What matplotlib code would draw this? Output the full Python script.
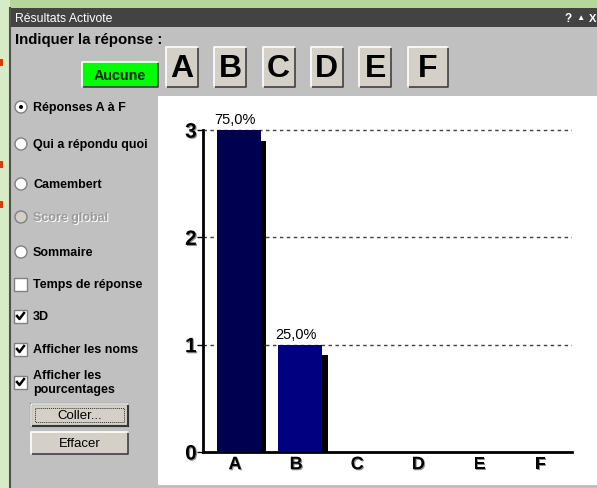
import numpy as np
import matplotlib.pyplot as plt
import matplotlib.patheffects as pe
from matplotlib.patches import Rectangle, Circle

# données du graphique
categories = ['A', 'B', 'C', 'D', 'E', 'F']
counts = [3, 1, 0, 0, 0, 0]
y_ticks = [0, 1, 2, 3]

# options du panneau de gauche
radio_labels = ['Réponses A à F', 'Qui a répondu quoi', 'Camembert', 'Score global', 'Sommaire']
check_labels = ['Temps de réponse', '3D', 'Afficher les noms', 'Afficher les\npourcentages']
check_state = [False, True, True, True]

W, H = 597, 489
GRAY = '#c0c0c0'
BTN = '#d4d0c8'
FONT = ['Liberation Sans', 'DejaVu Sans']
NARROW = ['Liberation Sans Narrow', 'Liberation Sans', 'DejaVu Sans']
bar_colors = ['#000050', '#000080', '#000080', '#000080', '#000080', '#000080']

fig = plt.figure(figsize=(W / 100, H / 100), dpi=100)

# calque "interface" en coordonnées pixels
ui = fig.add_axes([0, 0, 1, 1], zorder=0)
ui.set_xlim(0, W)
ui.set_ylim(H, 0)
ui.axis('off')


def button(x, y, w, h, face=BTN):
    ui.add_patch(Rectangle((x, y), w, h, facecolor=face, edgecolor='none'))
    ui.plot([x, x + w, x + w], [y + h, y + h, y], color='#404040', lw=1.2)
    ui.plot([x, x, x + w], [y + h, y, y], color='white', lw=1.2)


# bureau + fenêtre
ui.add_patch(Rectangle((0, 0), W, 9, facecolor='#b5d89a', edgecolor='none'))
ui.add_patch(Rectangle((0, 0), 10, H, facecolor='#d6ebc6', edgecolor='none'))
for ry in [60, 162, 202]:
    ui.add_patch(Rectangle((0, ry), 3, 7, facecolor='#d04010', edgecolor='none'))
ui.add_patch(Rectangle((10, 9), W - 10, H - 9, facecolor=GRAY, edgecolor='none'))
ui.plot([10, 10], [9, H], color='#505050', lw=1.5)
ui.add_patch(Rectangle((10, 9), W - 10, 19, facecolor='#434343', edgecolor='none'))
ui.text(15, 18.5, 'Résultats Activote', color='white', fontsize=8.8,
        va='center', family=FONT)
ui.text(564, 18.5, '?', color='white', fontsize=8.5, fontweight='bold',
        va='center', family=FONT)
ui.text(576, 18.5, '▲', color='white', fontsize=6, va='center', family=FONT)
ui.text(589, 18.5, 'X', color='white', fontsize=8, fontweight='bold',
        va='center', family=FONT)

ui.text(15, 40, 'Indiquer la réponse :', fontsize=10.8, fontweight='bold',
        va='center', family=FONT)

# bouton "Aucune"
button(82, 63, 76, 25, face='#00ff00')
ui.text(120, 76, 'Aucune', fontsize=10.3, fontweight='bold', ha='center',
        va='center', color='#102010', family=FONT)

# boutons lettres
for i, c in enumerate(categories):
    bx = 166 + 48.3 * i
    bw = 40 if i == len(categories) - 1 else 32
    button(bx, 48, bw, 40)
    ui.text(bx + bw / 2, 69, c, fontsize=23, fontweight='bold', ha='center',
            va='center', family=FONT)

# boutons radio
radio_y = [108, 145, 185, 218, 253]
for i, (lab, ry) in enumerate(zip(radio_labels, radio_y)):
    disabled = lab == 'Score global'
    ui.add_patch(Circle((21, ry), 6, facecolor=BTN if disabled else 'white',
                        edgecolor='#808080', lw=1))
    if i == 0:
        ui.add_patch(Circle((21, ry), 2, facecolor='black', edgecolor='none'))
    if disabled:
        ui.text(34, ry + 1, lab, fontsize=9, fontweight='bold', va='center',
                color='white', family=FONT)
    ui.text(33, ry, lab, fontsize=9, fontweight='bold', va='center',
            color='#9a9a9a' if disabled else 'black', family=FONT)

# cases à cocher
check_y = [285, 317, 350, 383]
for lab, cy, on in zip(check_labels, check_y, check_state):
    ui.add_patch(Rectangle((14, cy - 6.5), 13, 13, facecolor='white',
                           edgecolor='#808080', lw=1))
    if on:
        ui.plot([17, 19.5, 24], [cy, cy + 3, cy - 3], color='black', lw=1.8)
    ui.text(33, cy, lab, fontsize=9, fontweight='bold', va='center',
            linespacing=1.25, family=FONT)

# boutons Coller / Effacer
button(31, 405, 97, 22)
ui.add_patch(Rectangle((31, 405), 97, 22, facecolor='none', edgecolor='black', lw=1.5))
ui.add_patch(Rectangle((35, 409), 89, 14, facecolor='none', edgecolor='#303030',
                       lw=0.7, ls=(0, (1, 1))))
ui.text(79.5, 416, 'Coller...', fontsize=9.5, ha='center', va='center', family=FONT)
button(31, 433, 97, 22)
ui.text(79.5, 444, 'Effacer', fontsize=9.5, ha='center', va='center', family=FONT)

# zone blanche du graphique
ui.add_patch(Rectangle((158, 97), W - 158, 389, facecolor='white', edgecolor='none'))

# graphique
px_unit = 107.3
y_top = 3.15
ax = fig.add_axes([203 / W, 1 - 453 / H, (572 - 203) / W, y_top * px_unit / H],
                  zorder=1)
ax.set_facecolor('none')
x = np.arange(len(categories))
vals = np.array(counts, dtype=float)

ax.bar(x - 0.295, vals, width=0.72, align='edge', color=bar_colors, zorder=3)
ax.bar(x + 0.425, np.maximum(vals - 0.1, 0), width=0.09, align='edge',
       color='black', zorder=2)

total = vals.sum()
for xi, v in zip(x, vals):
    if v > 0:
        txt = f'{100 * v / total:.1f}%'.replace('.', ',')
        ax.text(xi, v + 0.035, txt, ha='center', va='bottom', fontsize=10.5,
                family=NARROW)

ax.set_xlim(-0.524, 5.516)
ax.set_ylim(0, y_top)
ax.set_yticks(y_ticks)
ax.set_xticks(x)
ax.set_xticklabels(categories)
ax.yaxis.grid(True, ls=(0, (2.5, 2.5)), color='#404040', lw=1)
ax.set_axisbelow(True)

for s in ['top', 'right']:
    ax.spines[s].set_visible(False)
ax.spines['left'].set_linewidth(2)
ax.spines['bottom'].set_linewidth(2)
ax.spines['left'].set_bounds(0, 3)
ax.tick_params(axis='y', length=4, width=1, pad=0.5, labelsize=15)
ax.tick_params(axis='x', length=0, pad=3, labelsize=13)

shadow = [pe.withSimplePatchShadow(offset=(0.8, -0.8), shadow_rgbFace='#909090', alpha=1)]
for t in ax.get_yticklabels() + ax.get_xticklabels():
    t.set_fontweight('bold')
    t.set_family(FONT)
    t.set_path_effects(shadow)

fig.savefig('out.png', dpi=100)
